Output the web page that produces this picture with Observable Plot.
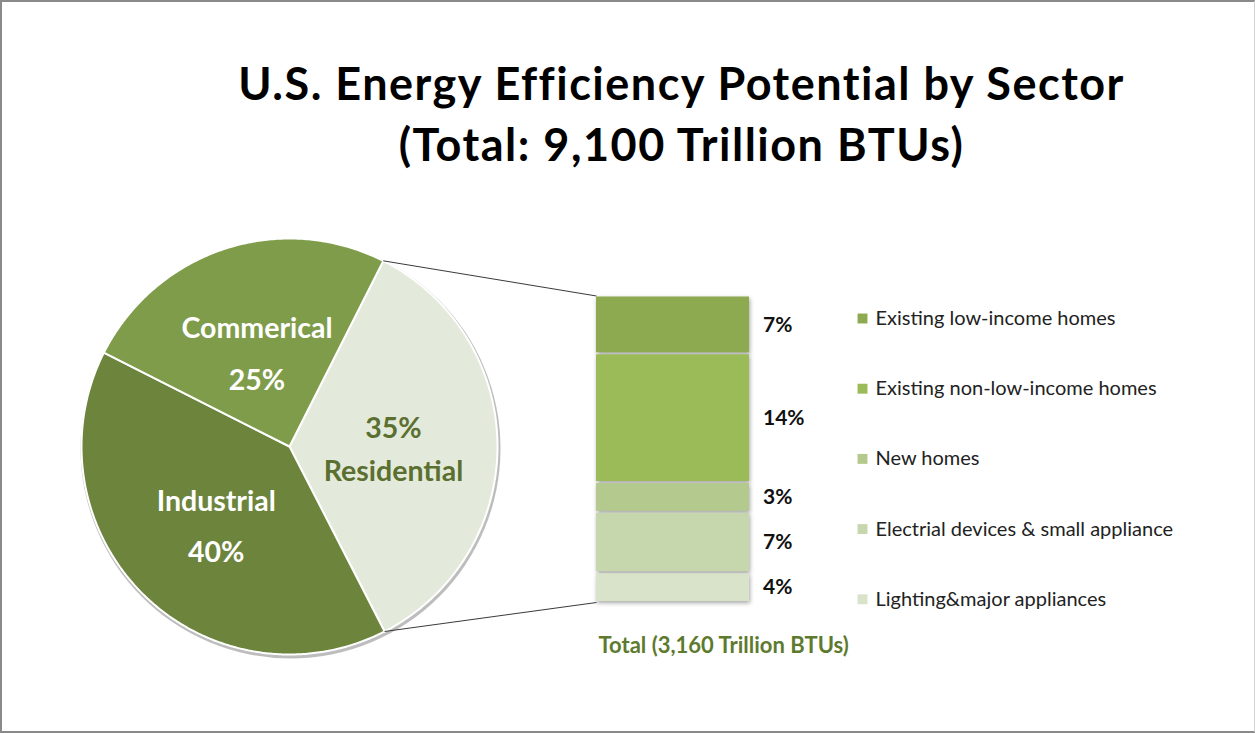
<!DOCTYPE html>
<html><head><meta charset="utf-8">
<script src="https://cdn.jsdelivr.net/npm/d3@7"></script>
<script src="https://cdn.jsdelivr.net/npm/@observablehq/plot@0.6"></script>
<style>
body{margin:0;background:#fff;font-family:Lato,"Open Sans",sans-serif;}
#wrap{position:relative;width:1255px;height:733px;overflow:hidden;background:#fff}
#frame{position:absolute;left:0;top:0;width:1255px;height:733px;box-sizing:border-box;border-left:2px solid #8a8a8a;border-top:2px solid #8a8a8a;border-bottom:2px solid #8a8a8a;border-right:1px solid #d4d4d4;pointer-events:none}
.abs{position:absolute;left:0;top:0}
#title{position:absolute;left:108px;width:1147px;top:53px;text-align:center;font-weight:700;font-size:45px;letter-spacing:1.5px;line-height:61px;color:#000;font-family:Lato,sans-serif}
g[aria-label="pie-shadow"]{filter:blur(2.5px)}
#bar g[aria-label="bar"]{filter:drop-shadow(1px 2px 2px rgba(0,0,0,0.35))}
</style></head>
<body>
<div id="wrap">
  <div id="main" class="abs"></div>
  <div id="bar" class="abs"></div>
  <div id="title"></div>
  <div id="frame"></div>
</div>
<script>
// ---- data ----
const titleLines = ["U.S. Energy Efficiency Potential by Sector", "(Total: 9,100 Trillion BTUs)"];
const sectors = ["Residential", "Industrial", "Commerical"];
const sectorShares = [35, 40, 25];
const sectorColors = ["#E4EADB", "#6D843D", "#7F9C4A"];
const subcats = ["Existing low-income homes", "Existing non-low-income homes", "New homes", "Electrial devices & small appliance", "Lighting&major appliances"];
const subShares = [6.6, 14.7, 3.4, 6.9, 3.4];
const subLabels = ["7%", "14%", "3%", "7%", "4%"];
const subColors = ["#8EAA51", "#9BBB59", "#B3C98E", "#C6D6AD", "#D9E3CA"];
const barLabel = "Total (3,160 Trillion BTUs)";

// ---- title ----
document.getElementById("title").innerHTML = titleLines.map(t => `<div>${t}</div>`).join("");

// ---- layout constants ----
const W = 1255, H = 733;
const cx = 289, cy = 446, R = 208;
const pieStart = 26.8 * Math.PI / 180;
const barLeft = 596, barTop = 295;

// ---- bar plot ----
const total = d3.sum(subShares);
const barData = subcats.map((name, i) => ({name, value: subShares[i], label: subLabels[i]}));
const barPlot = Plot.plot({
  width: 300, height: 400,
  marginLeft: 0, marginRight: 0, marginTop: 0, marginBottom: 93,
  style: {fontFamily: "Lato, sans-serif", fontSize: "20px", background: "transparent", overflow: "visible"},
  x: {type: "band", domain: [barLabel], range: [0, 153], padding: 0},
  y: {domain: [0, total], range: [307, 0.5], axis: null},
  color: {domain: subcats, range: subColors},
  marks: [
    Plot.barY(barData, {x: () => barLabel, y: "value", fill: "name", reverse: true, insetTop: 1, insetBottom: 1}),
    Plot.text(barData, Plot.stackY({x: () => barLabel, y: "value", text: "label", reverse: true,
      dx: 90, textAnchor: "start", fontWeight: "bold", fontSize: 21, fill: "#111"})),
    Plot.axisX({tickSize: 0, tickPadding: 35, textAnchor: "start", dx: -74.5, fontWeight: "bold",
      fontSize: 22, color: "#5E7A2E", label: null})
  ]
});
const barDiv = document.getElementById("bar");
barDiv.style.left = barLeft + "px";
barDiv.style.top = barTop + "px";
barDiv.appendChild(barPlot);

const xs = barPlot.scale("x"), ys = barPlot.scale("y");
const bx = barLeft + xs.apply(barLabel);
const byTop = barTop + ys.apply(total);
const byBot = barTop + ys.apply(0);

// ---- pie geometry from data ----
const arcs = d3.pie().sort(null).startAngle(pieStart).endAngle(pieStart + 2 * Math.PI)(sectorShares);
const polys = [];
arcs.forEach((a, i) => {
  const name = sectors[i];
  polys.push({name, x: cx, y: cy});
  const n = Math.ceil((a.endAngle - a.startAngle) / 0.01);
  for (let k = 0; k <= n; k++) {
    const t = a.startAngle + (a.endAngle - a.startAngle) * k / n;
    polys.push({name, x: cx + R * Math.sin(t), y: cy - R * Math.cos(t)});
  }
  polys.push({name, x: cx, y: cy});
});
const pieLabels = arcs.map((a, i) => {
  const m = (a.startAngle + a.endAngle) / 2, rr = R * 0.5;
  const pct = sectorShares[i] + "%";
  return {name: sectors[i], x: cx + rr * Math.sin(m), y: cy - rr * Math.cos(m),
    text: i === 0 ? pct + "\n" + sectors[i] : sectors[i] + "\n" + pct};
});
const res = arcs[0];
const links = [
  {x1: cx + R * Math.sin(res.startAngle), y1: cy - R * Math.cos(res.startAngle), x2: bx, y2: byTop},
  {x1: cx + R * Math.sin(res.endAngle), y1: cy - R * Math.cos(res.endAngle), x2: bx, y2: byBot}
];
const legendData = subcats.map((name, i) => ({name, row: i}));
const legendY = i => 318 + i * 70.2;

const mainPlot = Plot.plot({
  width: W, height: H, margin: 0,
  style: {fontFamily: "Lato, sans-serif", background: "#fff"},
  x: {domain: [0, W], range: [0, W], axis: null},
  y: {domain: [0, H], range: [0, H], axis: null},
  color: {domain: sectors.concat(subcats), range: sectorColors.concat(subColors)},
  marks: [
    Plot.dot([0], {x: () => cx + 1, y: () => cy + 2, r: R + 2, fill: "#bdbdbd", ariaLabel: "pie-shadow"}),
    Plot.line(polys, {x: "x", y: "y", z: "name", fill: "name", stroke: "white", strokeWidth: 2, strokeLinejoin: "round"}),
    Plot.link(links, {x1: "x1", y1: "y1", x2: "x2", y2: "y2", stroke: "#3a3a3a", strokeWidth: 1}),
    Plot.text(pieLabels.filter(d => d.name !== "Residential"), {x: "x", y: "y", text: "text", fill: "white",
      fontSize: 28.5, fontWeight: "bold", lineHeight: 1.8}),
    Plot.text(pieLabels.filter(d => d.name === "Residential"), {x: "x", y: "y", text: "text", fill: "#5B7030",
      fontSize: 28.5, fontWeight: "bold", lineHeight: 1.5}),
    Plot.dot(legendData, {x: () => 862, y: d => legendY(d.row), symbol: "square", r: 5.6, fill: "name"}),
    Plot.text(legendData, {x: () => 875, y: d => legendY(d.row), text: "name", textAnchor: "start",
      fontSize: 20, fill: "#222"})
  ]
});
document.getElementById("main").appendChild(mainPlot);
</script>
</body></html>
